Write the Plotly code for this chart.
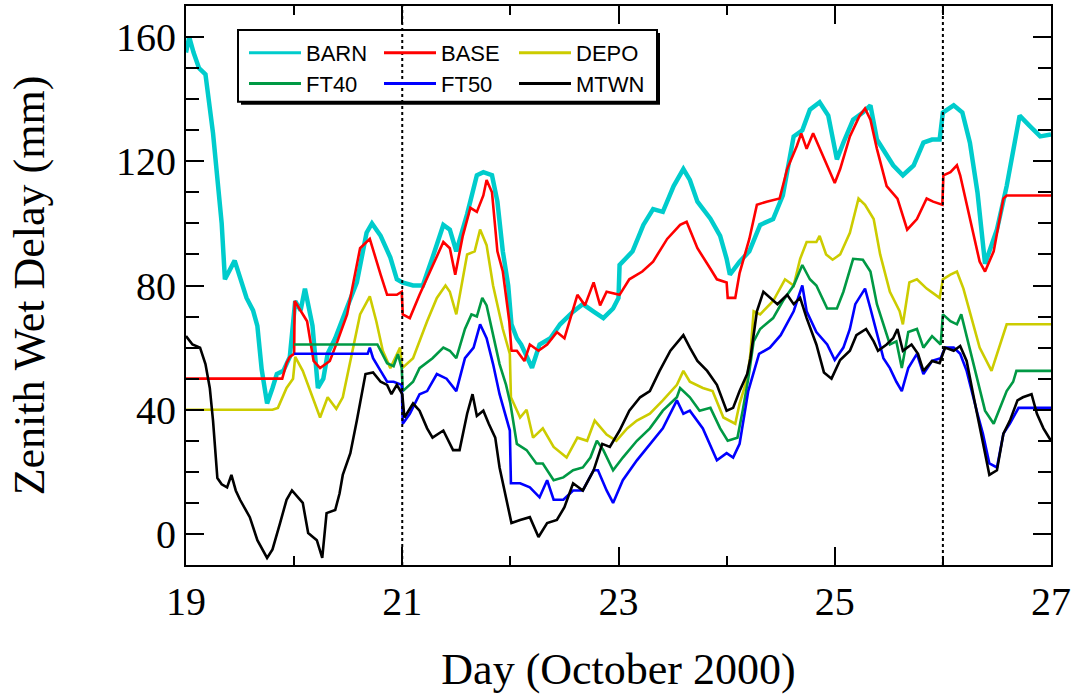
import plotly.graph_objects as go

# ---------------- data ----------------
barn_day = [19.0, 19.03, 19.07, 19.12, 19.18, 19.25, 19.33, 19.36, 19.45, 19.5, 19.56, 19.62, 19.66, 19.7, 19.75,
            19.8, 19.84, 19.9, 19.96, 20.01, 20.06, 20.1, 20.17, 20.22, 20.27, 20.31, 20.38, 20.49, 20.58, 20.67,
            20.72, 20.8, 20.89, 20.95, 21.0, 21.1, 21.19, 21.28, 21.38, 21.44, 21.5, 21.6, 21.69, 21.75, 21.83,
            21.88, 21.93, 21.98, 22.01, 22.06, 22.1, 22.2, 22.27, 22.37, 22.46, 22.58, 22.67, 22.77, 22.86, 22.95,
            23.0, 23.01, 23.13, 23.23, 23.32, 23.41, 23.51, 23.6, 23.66, 23.73, 23.85, 23.94, 24.0, 24.03, 24.12,
            24.21, 24.31, 24.43, 24.52, 24.62, 24.7, 24.77, 24.86, 24.94, 25.02, 25.08, 25.17, 25.26, 25.33, 25.39,
            25.48, 25.54, 25.63, 25.73, 25.82, 25.9, 25.97, 26.0, 26.1, 26.18, 26.25, 26.32, 26.39, 26.43, 26.5,
            26.59, 26.71, 26.8, 26.9, 27.0]
barn_zwd = [155, 160, 155, 150, 148, 129, 100, 82, 88, 82, 76, 72, 67, 53, 42,
            47, 51.5, 52.5, 57, 75, 72, 79, 67, 47, 50, 58, 63, 73, 81, 97,
            100, 96, 89, 82, 81, 80, 80, 89, 99.5, 98, 91, 103, 115.5, 116.5, 115.5,
            107, 91, 80, 67.5, 63, 61, 53.5, 61, 63, 67.5, 71.6, 74, 71.6, 69.5, 72.6,
            76, 86.6, 91, 99.5, 104.6, 103.7, 112, 117.5, 114, 107, 101.5, 96, 88.6, 83.5, 87.7,
            91, 99.5, 101.4, 109, 128, 130, 136.6, 139, 134.7, 120.6, 126, 133.4, 135.7, 138, 127,
            122, 118.7, 115.5, 118.7, 126, 127, 127, 135.7, 138, 135.7, 126, 110, 87, 91, 98,
            112, 134.7, 131.5, 128, 128.6]

base_day = [19.0, 19.89, 19.93, 19.96, 20.0, 20.005, 20.12, 20.18, 20.24, 20.33, 20.4, 20.49, 20.61, 20.7, 20.8,
            20.86, 20.95, 20.995, 21.005, 21.07, 21.16, 21.26, 21.38, 21.44, 21.49, 21.56, 21.63, 21.69, 21.75,
            21.78, 21.83, 21.88, 21.93, 21.99, 22.01, 22.06, 22.13, 22.18, 22.26, 22.34, 22.43, 22.5, 22.62,
            22.69, 22.77, 22.83, 22.89, 23.01, 23.1, 23.22, 23.32, 23.45, 23.57, 23.63, 23.73, 23.85, 23.91,
            24.0, 24.01, 24.08, 24.12, 24.21, 24.28, 24.37, 24.49, 24.56, 24.65, 24.69, 24.74, 24.8, 24.89,
            25.0, 25.05, 25.14, 25.23, 25.28, 25.33, 25.39, 25.48, 25.58, 25.67, 25.76, 25.85, 25.91, 25.995,
            26.005, 26.07, 26.13, 26.16, 26.22, 26.28, 26.34, 26.39, 26.47, 26.56, 26.59, 27.0]
base_zwd = [50, 50, 55, 57, 58, 75, 68.5, 55.7, 53.4, 55.7, 62, 70.7, 92, 95, 83.5,
            77, 77, 78, 70.7, 69.5, 77, 84.5, 94, 92, 83.5, 96, 105, 103.7, 109,
            114, 110, 91, 84.5, 68.5, 59, 59, 55.7, 61, 59, 61, 65, 63, 77,
            73.6, 81, 73.6, 78, 77, 82, 84.5, 87.7, 95, 99.5, 100.5, 92, 85.4, 82,
            81, 76, 76, 84, 95, 106, 107, 108, 117.5, 125, 129, 124, 129, 122,
            113, 117.5, 128, 134.7, 137, 133.4, 124, 112, 108, 98, 101.4, 108, 107, 106,
            115.5, 116.5, 118.7, 115.5, 106, 97, 87.7, 84.5, 91, 108, 109, 109]

depo_day = [19.0, 19.8, 19.85, 19.93, 19.99, 20.01, 20.08, 20.18, 20.24, 20.31, 20.39, 20.45, 20.52, 20.61, 20.7,
            20.76, 20.82, 20.89, 20.98, 21.0, 21.1, 21.23, 21.32, 21.4, 21.44, 21.5, 21.6, 21.67, 21.72, 21.78,
            21.84, 21.93, 21.995, 22.005, 22.09, 22.15, 22.21, 22.3, 22.4, 22.52, 22.62, 22.71, 22.78, 22.89,
            22.98, 23.08, 23.17, 23.29, 23.41, 23.54, 23.6, 23.66, 23.78, 23.87, 23.97, 24.08, 24.12, 24.19,
            24.22, 24.25, 24.31, 24.43, 24.54, 24.62, 24.68, 24.74, 24.83, 24.86, 24.92, 24.98, 25.05, 25.14,
            25.22, 25.28, 25.36, 25.42, 25.51, 25.6, 25.63, 25.69, 25.76, 25.85, 25.97, 26.0, 26.07, 26.13,
            26.19, 26.25, 26.34, 26.45, 26.51, 26.59, 27.0]
depo_zwd = [40, 40, 40.6, 47, 50, 57, 52.5, 43, 37.5, 44, 40.3, 44, 55.7, 70.7, 76.5,
            68.5, 59, 53.4, 60, 53.4, 56.6, 68.5, 76, 80, 78, 70.7, 90, 91, 98, 93,
            80, 66, 58, 44, 37.5, 40, 31, 34, 28, 24.6, 31, 30, 36.5, 32,
            30, 34, 36.5, 38.7, 43, 48, 52.5, 49, 47, 46, 37.5, 35.5, 42, 50,
            58, 71.7, 70.7, 75, 82, 80, 88.6, 94, 94, 96, 90, 88.3, 90, 97,
            108, 106, 101.4, 90, 78, 71.7, 67.5, 81, 82, 79, 76, 82, 83.5, 84.5,
            79, 71.7, 60, 52.5, 59, 67.5, 67.5]

ft40_day = [20.0, 20.77, 20.8, 20.86, 20.92, 20.96, 20.995, 21.005, 21.1, 21.16, 21.28, 21.38, 21.44, 21.5, 21.58,
            21.64, 21.69, 21.74, 21.78, 21.84, 21.9, 21.96, 22.0, 22.06, 22.15, 22.24, 22.3, 22.4, 22.49, 22.58,
            22.67, 22.74, 22.8, 22.86, 22.95, 23.04, 23.17, 23.29, 23.41, 23.54, 23.57, 23.66, 23.75, 23.85,
            23.94, 24.01, 24.1, 24.15, 24.2, 24.25, 24.31, 24.43, 24.52, 24.62, 24.7, 24.77, 24.83, 24.93,
            25.02, 25.08, 25.17, 25.26, 25.33, 25.39, 25.45, 25.51, 25.57, 25.62, 25.68, 25.76, 25.82, 25.9,
            25.98, 26.0, 26.07, 26.13, 26.17, 26.23, 26.32, 26.39, 26.47, 26.53, 26.59, 26.65, 26.68, 27.0]
ft40_zwd = [61, 61, 59, 55, 54, 57.9, 53.4, 46, 49, 53.4, 56.6, 60, 59, 56.6, 66,
            70.7, 70, 76, 73.6, 64, 54.7, 48, 42, 29, 27, 22.7, 22.7, 17.3, 18.2, 20.5,
            21.4, 24.6, 30, 27, 20.5, 24.6, 30, 34, 39.7, 44, 47, 44, 39.7, 40.6,
            34, 30, 31, 40, 50, 62, 66, 69.5, 75, 80, 86.6, 82, 80, 72.6,
            72.6, 78, 88.6, 88.3, 84.5, 74, 67.5, 61, 62, 53.4, 65, 66, 60, 63.7,
            61, 70.7, 68.5, 67.5, 70.7, 62, 49, 39.7, 35.5, 40.6, 46, 49, 52.5, 52.5]

ft50_day = [20.0, 20.68, 20.7, 20.73, 20.8, 20.86, 20.92, 20.995, 21.005, 21.07, 21.16, 21.23, 21.32, 21.41, 21.5,
            21.58, 21.66, 21.72, 21.78, 21.84, 21.9, 21.96, 21.995, 22.005, 22.09, 22.18, 22.27, 22.34, 22.4,
            22.49, 22.58, 22.67, 22.77, 22.81, 22.89, 22.95, 23.04, 23.17, 23.29, 23.41, 23.54, 23.6, 23.66,
            23.78, 23.91, 24.0, 24.06, 24.12, 24.2, 24.3, 24.4, 24.5, 24.62, 24.7, 24.74, 24.83, 24.93, 25.0,
            25.08, 25.14, 25.19, 25.28, 25.33, 25.39, 25.45, 25.51, 25.57, 25.62, 25.68, 25.76, 25.82, 25.9,
            25.98, 26.02, 26.1, 26.16, 26.22, 26.32, 26.37, 26.43, 26.5, 26.56, 26.62, 26.7, 27.0]
ft50_zwd = [58, 58, 60, 56.6, 52.5, 49, 49, 48, 35.5, 38.7, 45, 46, 51.5, 50, 46,
            56.6, 60, 67.5, 63, 54.7, 45, 37.5, 33.3, 16.3, 16.3, 15, 11.8, 17.3, 11,
            11, 14, 14, 20.5, 20.5, 14, 10, 17.3, 23.7, 29, 34, 43, 38.7, 39.7,
            34, 23.7, 26, 24.6, 29, 46, 58, 60, 64, 71.7, 80, 71.7, 65, 61, 56,
            60, 66, 74, 79, 72.6, 65, 56.6, 53.4, 49, 46, 53.4, 58, 51.5, 55.7,
            56.6, 60, 60, 58, 52.5, 38.7, 32.3, 22.7, 21.4, 32.3, 35.5, 40.6, 40.6]

mtwn_day = [19.0, 19.06, 19.13, 19.18, 19.22, 19.25, 19.29, 19.33, 19.38, 19.42, 19.46, 19.5, 19.59, 19.66, 19.75,
            19.8, 19.87, 19.93, 19.98, 20.03, 20.08, 20.13, 20.21, 20.26, 20.3, 20.38, 20.42, 20.45, 20.52, 20.58,
            20.66, 20.73, 20.8, 20.86, 20.9, 20.95, 21.0, 21.02, 21.1, 21.16, 21.23, 21.28, 21.38, 21.47, 21.53,
            21.6, 21.65, 21.69, 21.75, 21.8, 21.86, 21.9, 21.96, 22.01, 22.09, 22.18, 22.26, 22.34, 22.43, 22.5,
            22.58, 22.67, 22.77, 22.85, 22.92, 23.01, 23.1, 23.2, 23.29, 23.38, 23.48, 23.6, 23.66, 23.73, 23.82,
            23.91, 24.0, 24.06, 24.12, 24.19, 24.22, 24.28, 24.34, 24.4, 24.47, 24.56, 24.62, 24.68, 24.74, 24.83,
            24.9, 24.97, 25.05, 25.14, 25.2, 25.29, 25.36, 25.4, 25.48, 25.54, 25.58, 25.63, 25.71, 25.77, 25.82,
            25.9, 25.97, 26.02, 26.1, 26.16, 26.22, 26.28, 26.34, 26.39, 26.43, 26.5, 26.56, 26.62, 26.69, 26.74,
            26.82, 26.87, 26.93, 27.0]
mtwn_zwd = [63.7, 61, 60, 54.7, 47, 36.5, 18, 16, 15, 19, 14, 11, 5.4, -2, -7.7,
            -5, 3.5, 11, 14, 12, 10, 0.3, -2, -7.7, 6.7, 7.7, 13, 19, 26, 36.5,
            51.5, 52, 49, 48, 45, 48, 45, 37.5, 42, 39.7, 34, 31, 33.3, 27, 27,
            38.7, 45, 38, 39.7, 35.5, 31, 21.4, 11.8, 3.5, 4.5, 5.4, -1, 3.5, 4.5, 8.6,
            16.3, 14, 20.5, 29, 28, 33.3, 39.7, 44, 46, 52.5, 59, 64, 60, 55.7, 52.5,
            48, 39.7, 40.6, 46, 51.5, 56.6, 71.7, 78, 76, 74, 77, 74, 76, 69.5, 61,
            52, 50, 56, 59, 64, 66, 62, 59, 61, 63, 66, 59, 61, 58, 52.5,
            55.7, 55, 60, 59, 60.5, 55.7, 45, 34, 26, 19, 20.5, 32.3, 36.5, 43, 44,
            45, 38.7, 34, 30]

series_names = ["BARN", "BASE", "DEPO", "FT40", "FT50", "MTWN"]
series_days = [barn_day, base_day, depo_day, ft40_day, ft50_day, mtwn_day]
series_vals = [barn_zwd, base_zwd, depo_zwd, ft40_zwd, ft50_zwd, mtwn_zwd]

x_tick_vals = [19, 21, 23, 25, 27]
y_tick_vals = [0, 40, 80, 120, 160]
event_days = [21, 26]

# ---------------- styling ----------------
colors = ["#00CCCC", "#FF0000", "#CCCC00", "#009944", "#0000FF", "#000000"]
widths = [4.5, 2.6, 2.6, 2.6, 2.6, 2.6]
legend_of = ["legend", "legend", "legend", "legend2", "legend2", "legend2"]

fig = go.Figure()
for name, d, v, c, w in zip(series_names, series_days, series_vals, colors, widths):
    fig.add_trace(go.Scatter(x=d, y=v, mode="lines", name=name, legendgroup=name,
                             showlegend=False, line=dict(color=c, width=w)))
# legend entries (uniform line width, as in the reference key)
for name, c, lg in zip(series_names, colors, legend_of):
    fig.add_trace(go.Scatter(x=[None], y=[None], mode="lines", name=name, legendgroup=name,
                             line=dict(color=c, width=3), legend=lg))

for ed in event_days:
    fig.add_shape(type="line", xref="x", yref="paper", x0=ed, x1=ed, y0=0, y1=1,
                  line=dict(color="black", width=2, dash="3px,3px"), layer="above")

# legend frame with shadow (paper coords)
W, H = 865.0, 561.0
def px_x(p):
    return (p - 186.0) / W
def px_y(p):
    return (565.0 - p) / H

fig.add_shape(type="rect", xref="paper", yref="paper",
              x0=px_x(241), x1=px_x(660), y0=px_y(103), y1=px_y(31),
              fillcolor="black", line=dict(width=0), layer="below")
fig.add_shape(type="rect", xref="paper", yref="paper",
              x0=px_x(238), x1=px_x(657), y0=px_y(100), y1=px_y(28),
              fillcolor="white", line=dict(color="black", width=2), layer="below")

tick_font = dict(family="Times New Roman, Liberation Serif, serif", size=40, color="black")
title_font = dict(family="Times New Roman, Liberation Serif, serif", size=44, color="black")
leg_font = dict(family="Arial, Liberation Sans, sans-serif", size=22, color="black")

legend_common = dict(orientation="h", xanchor="left", yanchor="middle",
                     bgcolor="rgba(0,0,0,0)", borderwidth=0, font=leg_font,
                     entrywidth=68, entrywidthmode="pixels", itemwidth=52,
                     tracegroupgap=0, itemclick=False)

fig.update_layout(
    width=1075, height=698,
    margin=dict(l=186, r=24, t=4, b=133),
    paper_bgcolor="white", plot_bgcolor="white",
    showlegend=True,
    legend=dict(x=px_x(244), y=px_y(51), **legend_common),
    legend2=dict(x=px_x(244), y=px_y(82), **legend_common),
    xaxis=dict(range=[19, 27], tickmode="array", tickvals=x_tick_vals,
               ticks="inside", ticklen=18, tickwidth=2, tickcolor="black",
               minor=dict(dtick=1, tick0=19, ticks="inside", ticklen=9, tickwidth=2, tickcolor="black"),
               showline=True, linewidth=2, linecolor="black", mirror="allticks",
               showgrid=False, zeroline=False, tickfont=tick_font,
               title=dict(text="Day (October 2000)", font=title_font, standoff=30)),
    yaxis=dict(range=[-10, 170], tickmode="array", tickvals=y_tick_vals,
               ticks="inside", ticklen=18, tickwidth=2, tickcolor="black",
               minor=dict(dtick=10, tick0=0, ticks="inside", ticklen=13, tickwidth=2, tickcolor="black"),
               showline=True, linewidth=2, linecolor="black", mirror="allticks",
               showgrid=False, zeroline=False, tickfont=tick_font,
               title=dict(text="Zenith Wet Delay (mm)", font=title_font, standoff=58)),
)

fig.write_html("out.html")
